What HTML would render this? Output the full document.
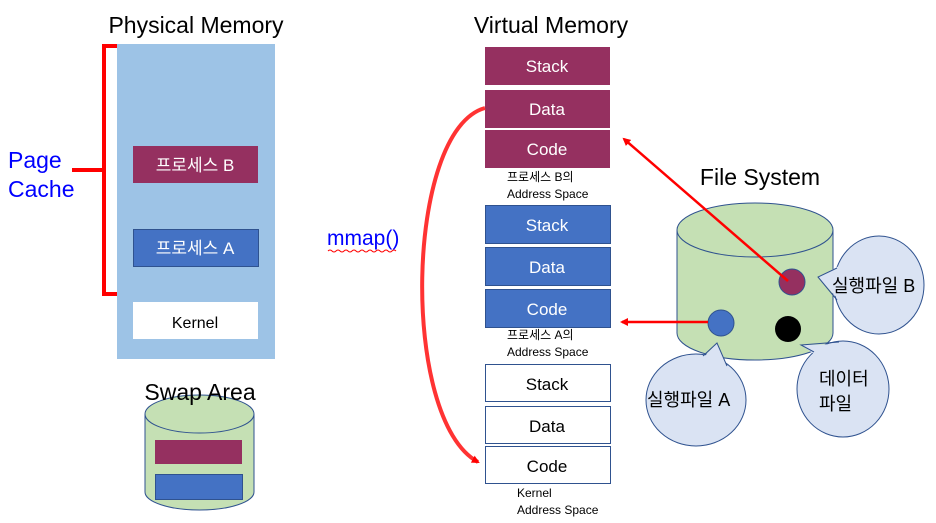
<!DOCTYPE html>
<html><head><meta charset="utf-8"><style>
body{margin:0;background:#fff;}
svg{display:block;font-family:"Liberation Sans","Noto Sans CJK KR",sans-serif;}
</style></head><body>
<svg width="936" height="523" viewBox="0 0 936 523" xmlns="http://www.w3.org/2000/svg">
<defs><marker id="ah" markerWidth="8" markerHeight="8" refX="6" refY="4" orient="auto" markerUnits="userSpaceOnUse"><path d="M0,0 L8,4 L0,8 z" fill="#f00"/></marker></defs>
<!-- Physical memory -->
<text x="196" y="33" font-size="23" text-anchor="middle" fill="#000">Physical Memory</text>
<rect x="117" y="44" width="158" height="315" fill="#9dc3e6"/>
<rect x="133" y="146" width="125" height="37" fill="#953060"/>
<text x="195" y="171" font-size="17" fill="#fff" text-anchor="middle">프로세스 B</text>
<rect x="133.5" y="229.5" width="125" height="37" fill="#4472c4" stroke="#2f528f"/>
<text x="195" y="254" font-size="17" fill="#fff" text-anchor="middle">프로세스 A</text>
<rect x="133" y="302" width="125" height="37" fill="#fff"/>
<text x="195" y="328" font-size="16" fill="#000" text-anchor="middle">Kernel</text>
<path d="M117,46 L104,46 L104,170 L72,170 M104,170 L104,294 L117,294" fill="none" stroke="#f00" stroke-width="4"/>
<text x="8" y="168" font-size="23" fill="#0000ff">Page</text>
<text x="8" y="197" font-size="23" fill="#0000ff">Cache</text>
<!-- Swap -->
<path d="M145,414 L145,492 A54.5,18 0 0 0 254,492 L254,414" fill="#c5e0b4" stroke="#2f528f"/>
<ellipse cx="199.5" cy="414" rx="54.5" ry="19" fill="#c5e0b4" stroke="#2f528f"/>
<rect x="155" y="440" width="87" height="24" fill="#953060"/>
<rect x="155.5" y="474.5" width="87" height="25" fill="#4472c4" stroke="#2f528f"/>
<text x="200" y="400" font-size="23" text-anchor="middle" fill="#000">Swap Area</text>
<!-- Virtual memory -->
<text x="551" y="33" font-size="23" text-anchor="middle" fill="#000">Virtual Memory</text>
<g font-size="17" text-anchor="middle">
<rect x="485" y="47" width="125" height="38" fill="#953060"/><text x="547" y="72" fill="#fff">Stack</text>
<rect x="485" y="90" width="125" height="38" fill="#953060"/><text x="547" y="115" fill="#fff">Data</text>
<rect x="485" y="130" width="125" height="38" fill="#953060"/><text x="547" y="155" fill="#fff">Code</text>
<rect x="485.5" y="205.5" width="125" height="38" fill="#4472c4" stroke="#2f528f"/><text x="547" y="231" fill="#fff">Stack</text>
<rect x="485.5" y="247.5" width="125" height="38" fill="#4472c4" stroke="#2f528f"/><text x="547" y="273" fill="#fff">Data</text>
<rect x="485.5" y="289.5" width="125" height="38" fill="#4472c4" stroke="#2f528f"/><text x="547" y="315" fill="#fff">Code</text>
<rect x="485.5" y="364.5" width="125" height="37" fill="#fff" stroke="#2f528f"/><text x="547" y="390" fill="#000">Stack</text>
<rect x="485.5" y="406.5" width="125" height="37" fill="#fff" stroke="#2f528f"/><text x="547" y="432" fill="#000">Data</text>
<rect x="485.5" y="446.5" width="125" height="37" fill="#fff" stroke="#2f528f"/><text x="547" y="472" fill="#000">Code</text>
</g>
<g font-size="12" fill="#000">
<text x="507" y="181">프로세스 B의</text><text x="507" y="198">Address Space</text>
<text x="507" y="339">프로세스 A의</text><text x="507" y="356">Address Space</text>
<text x="517" y="497">Kernel</text><text x="517" y="514">Address Space</text>
</g>
<text x="327" y="245" font-size="21" fill="#0000ff">mmap()</text>
<path d="M328,251 q2,-2 4,0 t4,0 t4,0 t4,0 t4,0 t4,0 t4,0 t4,0 t4,0 t4,0 t4,0 t4,0 t4,0 t4,0 t4,0 t4,0 t4,0" fill="none" stroke="#f00" stroke-width="1"/>
<path d="M485,108 C405,130 400,420 478,462" fill="none" stroke="#ff3333" stroke-width="4" marker-end="url(#ah)"/>
<!-- File system -->
<text x="760" y="185" font-size="23" text-anchor="middle" fill="#000">File System</text>
<path d="M677,230 L677,333 A78,27 0 0 0 833,333 L833,230" fill="#c5e0b4" stroke="#2f528f"/>
<ellipse cx="755" cy="230" rx="78" ry="27" fill="#c5e0b4" stroke="#2f528f"/>
<circle cx="792" cy="282" r="13" fill="#953060" stroke="#2f528f"/>
<circle cx="721" cy="323" r="13" fill="#4472c4" stroke="#2f528f"/>
<circle cx="788" cy="329" r="13" fill="#000"/>
<line x1="788" y1="281" x2="624" y2="139" stroke="#f00" stroke-width="2.5" marker-end="url(#ah)"/>
<line x1="708" y1="322" x2="622" y2="322" stroke="#f00" stroke-width="2.5" marker-end="url(#ah)"/>
<!-- callouts -->
<ellipse cx="879" cy="285" rx="45" ry="49" fill="#dae3f3" stroke="#2f528f"/>
<polygon points="818,277 839,266 839,300" fill="#dae3f3"/>
<path d="M837,268 L818,277 L837,300" fill="none" stroke="#2f528f"/>
<ellipse cx="696" cy="400" rx="50" ry="46" fill="#dae3f3" stroke="#2f528f"/>
<polygon points="717,343 703,358 728,368" fill="#dae3f3"/>
<path d="M703,356 L717,343 L727,366" fill="none" stroke="#2f528f"/>
<ellipse cx="843" cy="389" rx="46" ry="48" fill="#dae3f3" stroke="#2f528f"/>
<polygon points="801,345 814,354 840,344" fill="#dae3f3"/>
<path d="M814,352 L801,345 L839,342" fill="none" stroke="#2f528f"/>
<g font-size="18" fill="#000">
<text x="832" y="292">실행파일 B</text>
<text x="647" y="406">실행파일 A</text>
<text x="819" y="385">데이터</text>
<text x="819" y="410">파일</text>
</g>
</svg>
</body></html>
